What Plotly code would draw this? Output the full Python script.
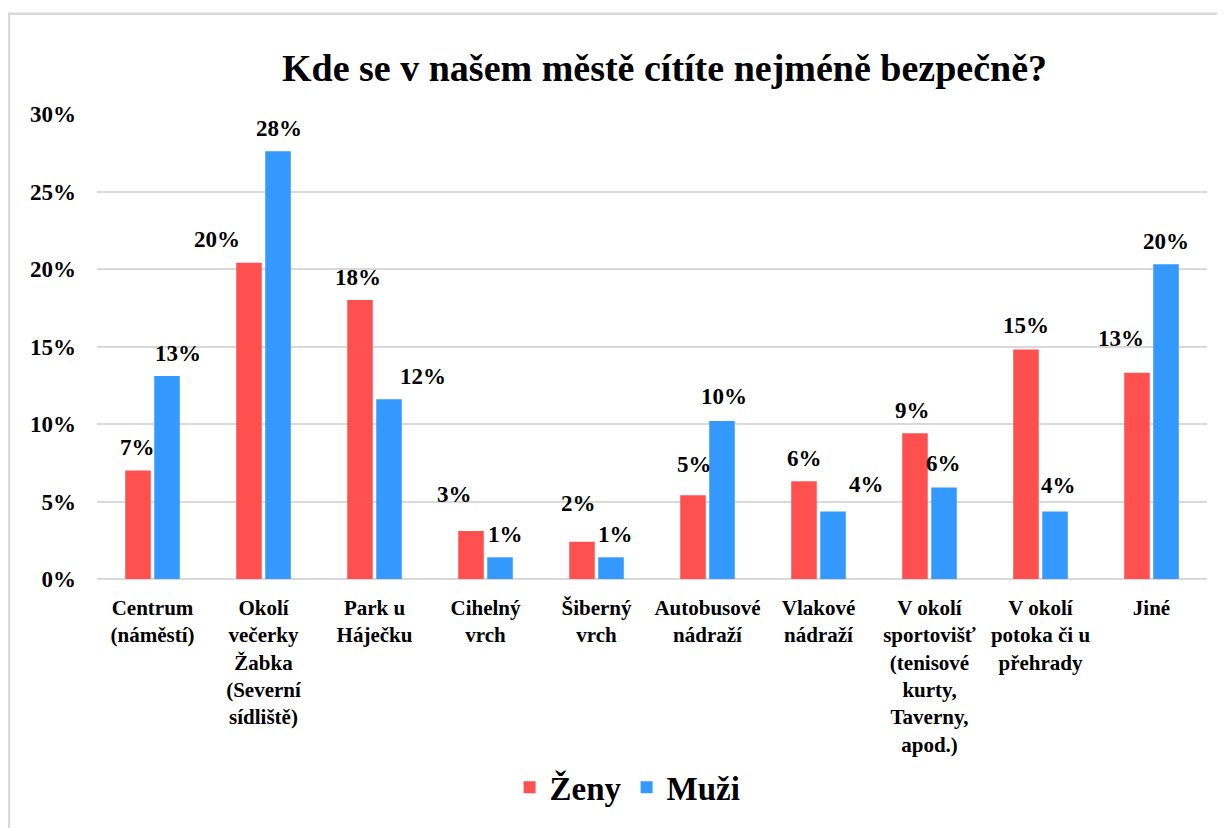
import plotly.graph_objects as go

categories = ["Centrum (náměstí)", "Okolí večerky Žabka (Severní sídliště)", "Park u Háječku",
              "Cihelný vrch", "Šiberný vrch", "Autobusové nádraží", "Vlakové nádraží",
              "V okolí sportovišť (tenisové kurty, Taverny, apod.)", "V okolí potoka či u přehrady", "Jiné"]
tick_labels = ["Centrum<br>(náměstí)", "Okolí<br>večerky<br>Žabka<br>(Severní<br>sídliště)", "Park u<br>Háječku",
               "Cihelný<br>vrch", "Šiberný<br>vrch", "Autobusové<br>nádraží", "Vlakové<br>nádraží",
               "V okolí<br>sportovišť<br>(tenisové<br>kurty,<br>Taverny,<br>apod.)",
               "V okolí<br>potoka či u<br>přehrady", "Jiné"]
zeny = [0.070, 0.204, 0.180, 0.031, 0.024, 0.054, 0.063, 0.094, 0.148, 0.133]
muzi = [0.131, 0.276, 0.116, 0.014, 0.014, 0.102, 0.0435, 0.059, 0.0435, 0.203]
y_ticks = [0, 0.05, 0.10, 0.15, 0.20, 0.25, 0.30]

# label placement (pixel offsets: x from category centre, y above bar top)
zeny_dx = [-15, -47, -17, -31, -18, -13, -14, -17, -15, -31]
zeny_dy = [23, 23, 23, 36, 38, 31, 23, 23, 24, 34]
muzi_dx = [25, 15, 48, 20, 19, 16, 48, 14, 18, 14]
muzi_dy = [22, 23, 23, 23, 23, 24, 27, 24, 26, 23]

FONT = "Liberation Serif"
RED = "#FF5050"
BLUE = "#3399FF"

fig = go.Figure()
fig.add_trace(go.Bar(name="<b>Ženy</b>", x=categories, y=zeny, marker=dict(color=RED, line=dict(width=0))))
fig.add_trace(go.Bar(name="<b>Muži</b>", x=categories, y=muzi, marker=dict(color=BLUE, line=dict(width=0))))

annotations = []
for vals, dxs, dys in ((zeny, zeny_dx, zeny_dy), (muzi, muzi_dx, muzi_dy)):
    for c, v, dx, dy in zip(categories, vals, dxs, dys):
        annotations.append(dict(x=c, y=v, xref="x", yref="y", text=f"<b>{round(v * 100)}%</b>",
                                showarrow=False, xshift=dx, yshift=dy, yanchor="middle",
                                xanchor="center",
                                font=dict(family=FONT, size=23, color="black")))

annotations.append(dict(x=0.511, y=1.098, xref="paper", yref="paper",
                        text="<b>Kde se v našem městě cítíte nejméně bezpečně?</b>", showarrow=False,
                        xanchor="center", yanchor="middle",
                        font=dict(family=FONT, size=38, color="black")))

fig.update_layout(
    width=1217, height=820,
    margin=dict(l=89, r=18, t=106, b=245),
    paper_bgcolor="white", plot_bgcolor="white",
    barmode="group", bargap=0.477, bargroupgap=0.12,
    font=dict(family=FONT, color="black"),
    annotations=annotations,
    showlegend=True,
    legend=dict(orientation="h", x=0.478, y=-0.448, xanchor="center", yanchor="middle",
                font=dict(family=FONT, size=33, color="black"),
                itemwidth=30, traceorder="normal"),
    shapes=[dict(type="rect", xref="paper", yref="paper", x0=-0.0793, x1=1.1, y0=-1.0, y1=1.2154,
                 line=dict(color="#D9D9D9", width=2.5), fillcolor="rgba(0,0,0,0)", layer="below")],
)
fig.update_yaxes(range=[0, 0.30], tickvals=y_ticks,
                 ticktext=[f"<b>{round(t * 100)}%</b>" for t in y_ticks], showgrid=True,
                 gridcolor="#D9D9D9", gridwidth=1.5, zeroline=True, zerolinecolor="#D9D9D9",
                 zerolinewidth=1.5, showline=False, ticks="", ticklabelstandoff=20,
                 tickfont=dict(family=FONT, size=23, color="black"))
fig.update_xaxes(tickvals=categories, ticktext=[f"<b>{t}</b>" for t in tick_labels],
                 showgrid=False, showline=False,
                 ticks="", ticklabelstandoff=14, tickangle=0,
                 tickfont=dict(family=FONT, size=21, color="black"))

fig.write_html("out.html")
